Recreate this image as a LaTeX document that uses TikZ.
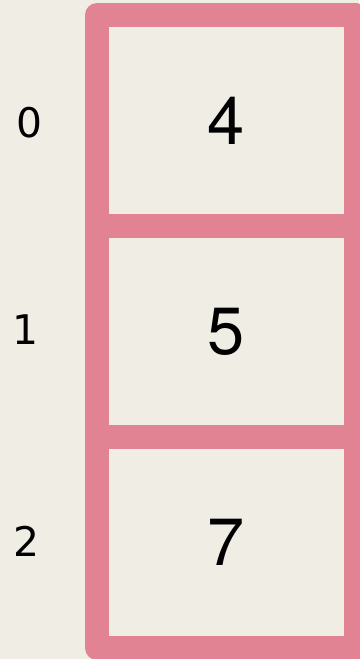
\documentclass[tikz,border=0pt]{standalone}
\usepackage{fontspec}
\setsansfont{TeX Gyre Heros}
\newfontfamily\idxfont{DejaVu Sans}
\usetikzlibrary{positioning}
\definecolor{membg}{RGB}{240,237,229}
\definecolor{memedge}{RGB}{225,131,147}
\definecolor{memtext}{RGB}{0,0,0}
\tikzset{
  memcell/.style={
    draw=memedge, fill=membg, line width=24bp, line join=round,
    minimum width=259bp, minimum height=211bp, inner sep=0pt, outer sep=0pt,
    font=\sffamily\fontsize{67}{67}\selectfont, text=memtext
  },
  memidx/.style={font=\idxfont\fontsize{41}{41}\selectfont, text=memtext, inner sep=0pt},
}
\begin{document}
\begin{tikzpicture}[x=1bp, y=-1bp]
    \fill[membg] (0,0) rectangle (359,659);
    \useasboundingbox (0,0) rectangle (359,659);

    \node[memcell] (c0) at (226.5,120.5) {4};
    \node[memcell, below=0bp of c0] (c1) {5};
    \node[memcell, below=0bp of c1] (c2) {7};

    \node[memidx] (i0) at ([xshift=-68bp, yshift=-2bp]c0.west) {0};
    \node[memidx] (i1) at ([xshift=-72bp, yshift=2bp]c1.west) {1};
    \node[memidx] (i2) at ([xshift=-71bp, yshift=1bp]c2.west) {2};
  \end{tikzpicture}
\end{document}
